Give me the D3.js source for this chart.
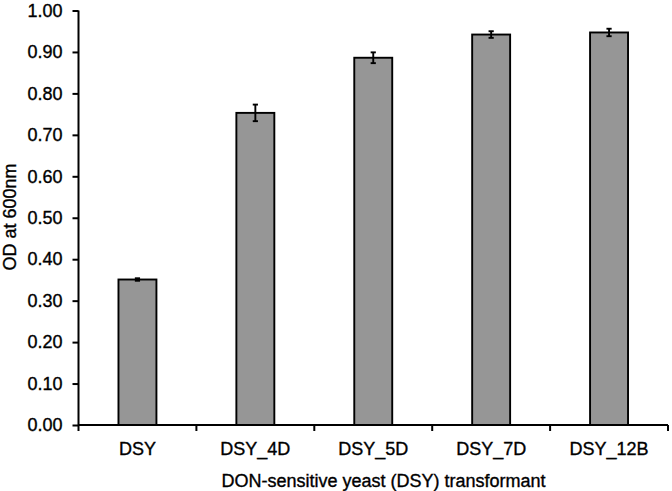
<!DOCTYPE html>
<html><head><meta charset="utf-8">
<script src="https://cdn.jsdelivr.net/npm/d3@7"></script>
<style>body{margin:0;background:#fff}svg{display:block}text{font-family:"Liberation Sans",Arial,sans-serif}</style>
</head><body>
<svg id="c" width="672" height="491"></svg>
<script>
const categories = ["DSY","DSY_4D","DSY_5D","DSY_7D","DSY_12B"];
const values = [0.351, 0.753, 0.886, 0.942, 0.947];
const errors = [0.003, 0.020, 0.013, 0.008, 0.009];
const yTicks = [0,0.1,0.2,0.3,0.4,0.5,0.6,0.7,0.8,0.9,1.0];
const xTitle = "DON-sensitive yeast (DSY) transformant";
const yTitle = "OD at 600nm";

const svg = d3.select("#c");
const L = 78.5, R = 668, T = 10.5, B = 425;
const x = d3.scaleBand().domain(categories).range([L, R]).padding(0);
const y = d3.scaleLinear().domain([0, 1]).range([B, T]);
const bw = x.bandwidth() * 0.322;
const txtStroke = 0.35;

// bars
svg.append("g").selectAll("rect").data(categories).join("rect")
  .attr("x", d => x(d) + (x.bandwidth() - bw) / 2)
  .attr("y", (d, i) => y(values[i]))
  .attr("width", bw)
  .attr("height", (d, i) => B - y(values[i]))
  .attr("fill", "#969696").attr("stroke", "#000").attr("stroke-width", 1.9);

// error bars
const eg = svg.append("g").attr("stroke", "#000").attr("stroke-width", 1.9);
categories.forEach((c, i) => {
  const cx = x(c) + x.bandwidth() / 2;
  const y1 = y(values[i] + errors[i]), y2 = y(values[i] - errors[i]);
  eg.append("line").attr("x1", cx).attr("x2", cx).attr("y1", y1).attr("y2", y2);
  eg.append("line").attr("x1", cx - 2.6).attr("x2", cx + 2.6).attr("y1", y1).attr("y2", y1);
  eg.append("line").attr("x1", cx - 2.6).attr("x2", cx + 2.6).attr("y1", y2).attr("y2", y2);
});

// y axis
const ya = svg.append("g").attr("transform", `translate(${L},0)`)
  .call(d3.axisLeft(y).tickValues(yTicks).tickFormat(d3.format(".2f")).tickSize(6).tickPadding(10));
ya.select(".domain").attr("stroke-width", 2).attr("d", `M0,${B}V${T}`);
ya.selectAll(".tick line").attr("stroke-width", 2);
ya.selectAll(".tick text").attr("font-size", 18).attr("fill", "#000")
  .attr("font-family", "Liberation Sans").attr("stroke", "#000").attr("stroke-width", txtStroke);

// x axis
const xa = svg.append("g").attr("transform", `translate(0,${B})`)
  .call(d3.axisBottom(x).tickSize(0).tickPadding(17));
xa.select(".domain").attr("stroke-width", 2).attr("d", `M${L},0H${R}`);
xa.selectAll(".tick text").attr("font-size", 18).attr("fill", "#000")
  .attr("font-family", "Liberation Sans").attr("stroke", "#000").attr("stroke-width", txtStroke);
const bounds = categories.map(c => x(c)).concat([x.range()[1]]);
xa.append("g").selectAll("line").data(bounds).join("line")
  .attr("x1", d => d).attr("x2", d => d).attr("y1", 0).attr("y2", 6)
  .attr("stroke", "#000").attr("stroke-width", 2);

// titles
svg.append("text").attr("x", 383.5).attr("y", 487).attr("text-anchor", "middle")
  .attr("font-size", 18).attr("stroke", "#000").attr("stroke-width", txtStroke).text(xTitle);
svg.append("text").attr("transform", `translate(16,217) rotate(-90)`)
  .attr("text-anchor", "middle").attr("font-size", 18)
  .attr("stroke", "#000").attr("stroke-width", txtStroke).text(yTitle);
</script>
</body></html>
